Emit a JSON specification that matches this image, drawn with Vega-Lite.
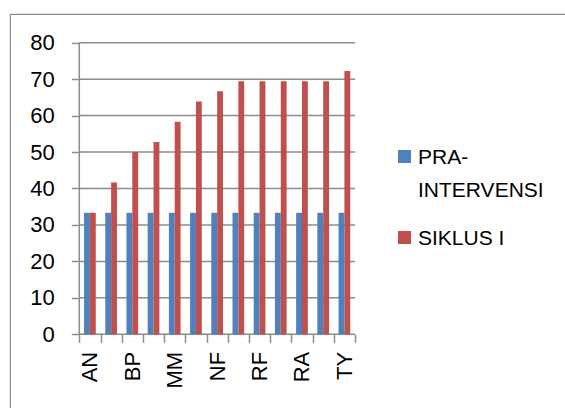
{
  "$schema": "https://vega.github.io/schema/vega-lite/v6.json",
  "width": 560,
  "height": 400,
  "autosize": {"type": "none"},
  "padding": {"left": 10, "top": 14, "right": 0, "bottom": 0},
  "background": "white",
  "config": {
    "view": {"stroke": "#8c8c8c", "strokeWidth": 1.2},
    "font": "Liberation Sans",
    "axis": {
      "labelFont": "Liberation Sans",
      "labelFontSize": 22,
      "labelColor": "#000000",
      "domain": false,
      "grid": false,
      "tickColor": "#8c8c8c",
      "tickWidth": 1.5,
      "tickSize": 8,
      "title": null
    }
  },
  "datasets": {
    "scores": [
      {"name": "AN", "series": "PRA-INTERVENSI", "value": 33.33},
      {"name": "AS", "series": "PRA-INTERVENSI", "value": 33.33},
      {"name": "BP", "series": "PRA-INTERVENSI", "value": 33.33},
      {"name": "DW", "series": "PRA-INTERVENSI", "value": 33.33},
      {"name": "MM", "series": "PRA-INTERVENSI", "value": 33.33},
      {"name": "MR", "series": "PRA-INTERVENSI", "value": 33.33},
      {"name": "NF", "series": "PRA-INTERVENSI", "value": 33.33},
      {"name": "NS", "series": "PRA-INTERVENSI", "value": 33.33},
      {"name": "RF", "series": "PRA-INTERVENSI", "value": 33.33},
      {"name": "RH", "series": "PRA-INTERVENSI", "value": 33.33},
      {"name": "RA", "series": "PRA-INTERVENSI", "value": 33.33},
      {"name": "SN", "series": "PRA-INTERVENSI", "value": 33.33},
      {"name": "TY", "series": "PRA-INTERVENSI", "value": 33.33},
      {"name": "AN", "series": "SIKLUS I", "value": 33.33},
      {"name": "AS", "series": "SIKLUS I", "value": 41.67},
      {"name": "BP", "series": "SIKLUS I", "value": 50.0},
      {"name": "DW", "series": "SIKLUS I", "value": 52.78},
      {"name": "MM", "series": "SIKLUS I", "value": 58.33},
      {"name": "MR", "series": "SIKLUS I", "value": 63.89},
      {"name": "NF", "series": "SIKLUS I", "value": 66.67},
      {"name": "NS", "series": "SIKLUS I", "value": 69.44},
      {"name": "RF", "series": "SIKLUS I", "value": 69.44},
      {"name": "RH", "series": "SIKLUS I", "value": 69.44},
      {"name": "RA", "series": "SIKLUS I", "value": 69.44},
      {"name": "SN", "series": "SIKLUS I", "value": 69.44},
      {"name": "TY", "series": "SIKLUS I", "value": 72.22}
    ],
    "grid": [
      {"v": 0}, {"v": 10}, {"v": 20}, {"v": 30}, {"v": 40},
      {"v": 50}, {"v": 60}, {"v": 70}, {"v": 80}
    ]
  },
  "layer": [
    {
      "data": {"name": "grid"},
      "mark": {"type": "rule", "color": "#8c8c8c", "strokeWidth": 1.5},
      "encoding": {
        "y": {"field": "v", "type": "quantitative",
              "scale": {"domain": [-21.87, 87.87], "nice": false, "zero": false}},
        "x": {"datum": "AN", "type": "nominal", "bandPosition": 0,
              "scale": {
                "domain": ["AN", "AS", "BP", "DW", "MM", "MR", "NF", "NS", "RF", "RH", "RA", "SN", "TY"],
                "paddingInner": 0, "paddingOuter": 0, "range": [69.3, 345.0]}},
        "x2": {"datum": "TY", "bandPosition": 1}
      }
    },
    {
      "data": {"name": "scores"},
      "mark": {"type": "bar"},
      "encoding": {
        "x": {
          "field": "name",
          "type": "nominal",
          "scale": {
            "domain": ["AN", "AS", "BP", "DW", "MM", "MR", "NF", "NS", "RF", "RH", "RA", "SN", "TY"],
            "paddingInner": 0,
            "paddingOuter": 0,
            "range": [69.3, 345.0]
          },
          "axis": {
            "tickBand": "extent",
            "offset": -79.7,
            "labelAngle": -90,
            "labelAlign": "right",
            "labelBaseline": "middle",
            "labelPadding": 9,
            "labelOverlap": false,
            "labelExpr": "indexof(['AN','BP','MM','NF','RF','RA','TY'], datum.value) >= 0 ? datum.value : ''"
          }
        },
        "xOffset": {
          "field": "series",
          "type": "nominal",
          "scale": {"paddingOuter": 0.81, "paddingInner": 0}
        },
        "y": {
          "field": "value",
          "type": "quantitative",
          "scale": {"domain": [-21.87, 87.87], "nice": false, "zero": false},
          "axis": {
            "values": [0, 10, 20, 30, 40, 50, 60, 70, 80],
            "offset": -69.3,
            "labelPadding": 17
          }
        },
        "color": {
          "field": "series",
          "type": "nominal",
          "scale": {"domain": ["PRA-INTERVENSI", "SIKLUS I"], "range": ["#4F81BD", "#C0504D"]},
          "legend": {
            "orient": "none",
            "legendX": 384,
            "legendY": 132,
            "title": null,
            "padding": 0,
            "symbolType": "square",
            "symbolSize": 169,
            "symbolStrokeWidth": 0,
            "labelFont": "Liberation Sans",
            "labelFontSize": 21,
            "labelColor": "#000000",
            "labelOffset": 3,
            "rowPadding": 26,
            "labelLimit": 300,
            "labelBaseline": "alphabetic",
            "labelExpr": "datum.label == 'PRA-INTERVENSI' ? ['PRA-', 'INTERVENSI'] : datum.label",
            "encode": {"labels": {"update": {"dy": {"value": 7}, "lineHeight": {"value": 33}}}}
          }
        }
      }
    },
    {
      "data": {"values": [{}]},
      "mark": {"type": "rule", "color": "#8c8c8c", "strokeWidth": 1.5},
      "encoding": {
        "x": {"datum": "AN", "type": "nominal", "bandPosition": 0,
              "scale": {
                "domain": ["AN", "AS", "BP", "DW", "MM", "MR", "NF", "NS", "RF", "RH", "RA", "SN", "TY"],
                "paddingInner": 0, "paddingOuter": 0, "range": [69.3, 345.0]}},
        "y": {"datum": 0, "type": "quantitative",
              "scale": {"domain": [-21.87, 87.87], "nice": false, "zero": false}},
        "y2": {"datum": 80}
      }
    }
  ]
}
